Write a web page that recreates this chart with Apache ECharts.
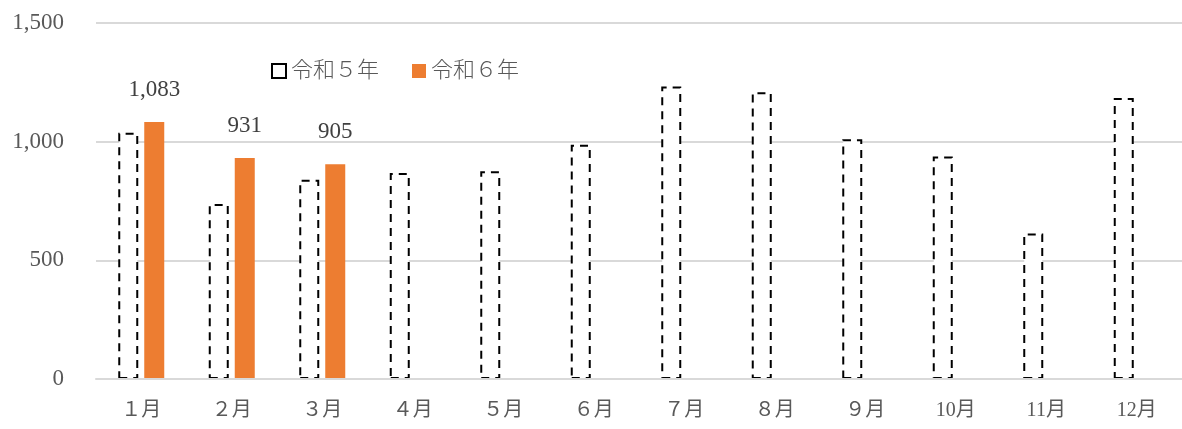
<!DOCTYPE html>
<html>
<head>
<meta charset="utf-8">
<script src="https://cdn.jsdelivr.net/npm/echarts@6/dist/echarts.min.js"></script>
<style>
  html, body { margin: 0; padding: 0; background: #fff; }
  #chart { width: 1182px; height: 429px; }
</style>
</head>
<body>
<div id="chart"></div>
<script>
// data
const months = ['１月', '２月', '３月', '４月', '５月', '６月', '７月', '８月', '９月', '10月', '11月', '12月'];
const r5Values = [1038, 737, 840, 868, 875, 987, 1232, 1208, 1010, 937, 613, 1184];
const r6Values = [1083, 931, 905, null, null, null, null, null, null, null, null, null];
const seriesNames = ['令和５年', '令和６年'];
const yTicks = [0, 500, 1000, 1500];

const fontFamily = '"Liberation Serif", "Noto Sans CJK JP", serif';

let myChart = echarts.init(document.getElementById('chart'));

let option = {
    backgroundColor: '#fff',
    animation: false,
    grid: {
        left: 96,
        right: 0,
        top: 23,
        bottom: 50
    },
    legend: {
        left: 266,
        top: 55,
        icon: 'rect',
        itemWidth: 14,
        itemHeight: 14,
        itemGap: 33,
        textStyle: {
            fontFamily: fontFamily,
            fontSize: 22,
            fontWeight: 300,
            color: '#595959'
        },
        data: seriesNames
    },
    xAxis: {
        type: 'category',
        data: months,
        z: 5,
        axisLine: { lineStyle: { color: '#d9d9d9', width: 2 } },
        axisTick: { show: false },
        axisLabel: {
            margin: 22,
            fontFamily: fontFamily,
            fontSize: 20,
            color: '#595959'
        }
    },
    yAxis: {
        type: 'value',
        min: yTicks[0],
        max: yTicks[yTicks.length - 1],
        interval: 500,
        splitLine: { lineStyle: { color: '#d9d9d9', width: 2 } },
        axisLine: { show: false },
        axisTick: { show: false },
        axisLabel: {
            margin: 32,
            fontFamily: fontFamily,
            fontSize: 23,
            color: '#595959',
            formatter: function (v) {
                return v.toLocaleString('en-US');
            }
        }
    },
    series: [
        {
            name: seriesNames[0],
            type: 'bar',
            data: r5Values,
            barWidth: 20,
            barGap: '30%',
            itemStyle: {
                color: '#fff',
                borderColor: '#000',
                borderWidth: 2,
                borderType: [8, 6]
            }
        },
        {
            name: seriesNames[1],
            type: 'bar',
            data: r6Values,
            barWidth: 20,
            itemStyle: {
                color: '#ED7D31'
            },
            label: {
                show: true,
                position: 'top',
                distance: 21,
                fontFamily: fontFamily,
                fontSize: 23,
                color: '#404040',
                formatter: function (p) {
                    return p.value.toLocaleString('en-US');
                }
            }
        }
    ]
};

myChart.setOption(option);
</script>
</body>
</html>
